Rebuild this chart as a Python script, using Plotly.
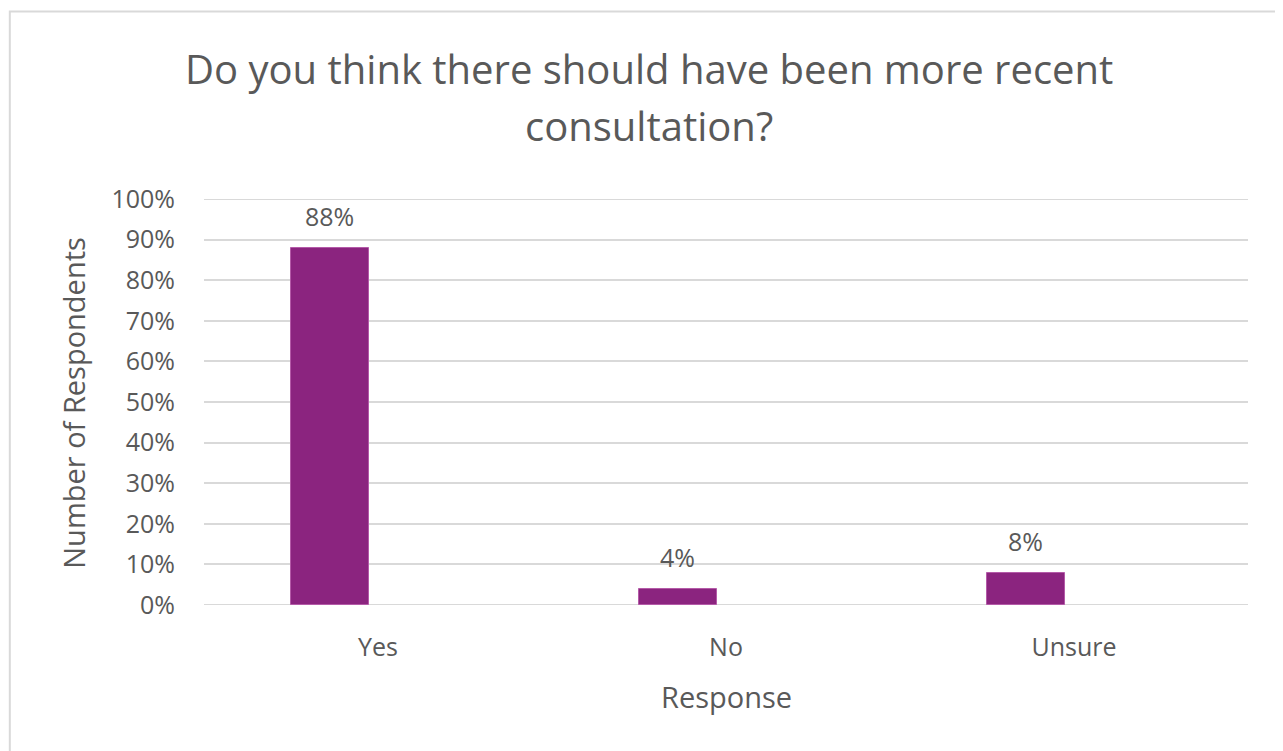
import plotly.graph_objects as go

categories = ["Yes", "No", "Unsure"]
values = [88, 4, 8]
y_ticks = [0, 10, 20, 30, 40, 50, 60, 70, 80, 90, 100]
y_tick_labels = [f"{v}%" for v in y_ticks]

FONT = "Open Sans"
GREY = "#595959"
GRID = "#d9d9d9"
BAR_WIDTH = 0.224
BAR_OFFSET = -0.25

fig = go.Figure()
fig.add_trace(go.Bar(
    x=categories, y=values,
    marker=dict(color="#8B247F", line=dict(color="#B45AA8", width=1)),
    width=BAR_WIDTH, offset=BAR_OFFSET,
    cliponaxis=False, hoverinfo="x+y",
))

label_annotations = [
    dict(text=f"{v}%", xref="x", yref="y", x=i + BAR_OFFSET + BAR_WIDTH / 2, y=v,
         yshift=32, xanchor="center", yanchor="middle", showarrow=False,
         font=dict(family=FONT, size=25, color=GREY))
    for i, v in enumerate(values)
]

edge_lines = [
    dict(type="line", xref="paper", yref="y", x0=0, x1=1, y0=v, y1=v,
         line=dict(color=GRID, width=2), layer="below")
    for v in (y_ticks[0], y_ticks[-1])
]

fig.update_layout(
    width=1275, height=743,
    margin=dict(l=196, r=35, t=191, b=145.5),
    paper_bgcolor="white", plot_bgcolor="white",
    showlegend=False,
    bargap=0,
    xaxis=dict(range=[-0.5, 2.5], showgrid=False, zeroline=False, showline=False,
               ticks="", tickfont=dict(family=FONT, size=25, color=GREY),
               ticklabelstandoff=25),
    yaxis=dict(range=[0, 100], tickvals=y_ticks, ticktext=y_tick_labels,
               showgrid=True, gridcolor=GRID, gridwidth=2,
               zeroline=False, showline=False, ticks="",
               tickfont=dict(family=FONT, size=25, color=GREY),
               ticklabelstandoff=28),
    shapes=[dict(type="rect", xref="paper", yref="paper",
                 x0=-0.186, x1=1.2, y0=-1.0, y1=1.462,
                 line=dict(color=GRID, width=2), fillcolor="rgba(0,0,0,0)", layer="below")]
           + edge_lines,
    annotations=label_annotations + [
        dict(text="Do you think there should have been more recent", xref="paper", yref="paper",
             x=0.426, y=1.322, xanchor="center", yanchor="middle", showarrow=False,
             font=dict(family=FONT, size=40, color=GREY)),
        dict(text="consultation?", xref="paper", yref="paper",
             x=0.426, y=1.18, xanchor="center", yanchor="middle", showarrow=False,
             font=dict(family=FONT, size=40, color=GREY)),
        dict(text="Number of Respondents", xref="paper", yref="paper",
             x=-0.125, y=0.497, xanchor="center", yanchor="middle", showarrow=False,
             textangle=-90, font=dict(family=FONT, size=29, color=GREY)),
        dict(text="Response", xref="paper", yref="paper",
             x=0.5, y=-0.225, xanchor="center", yanchor="middle", showarrow=False,
             font=dict(family=FONT, size=29, color=GREY)),
    ],
)

fig.write_html("out.html")
